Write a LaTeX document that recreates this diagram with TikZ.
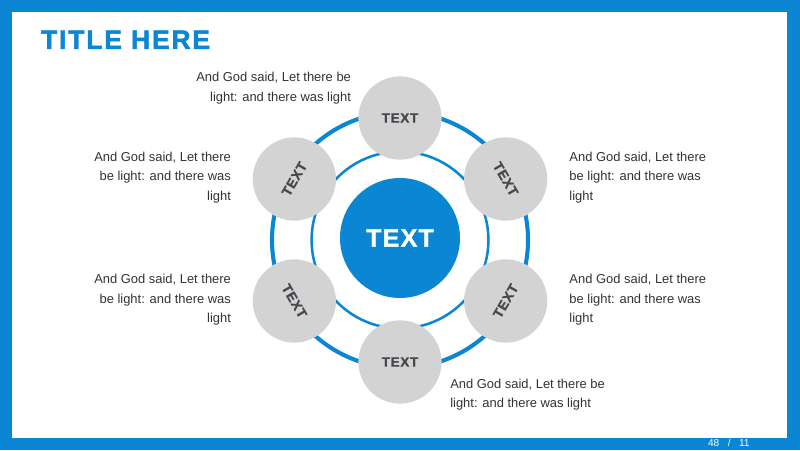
\documentclass[tikz,border=0pt]{standalone}
\usepackage{fontspec}
\setmainfont{Liberation Sans}
\newfontfamily\titlefont{Liberation Sans Bold}[FakeBold=1.8, LetterSpace=7]
\newfontfamily\boldsans{Liberation Sans Bold}[FakeBold=1.2, LetterSpace=5]
\begin{document}
\begin{tikzpicture}
    \definecolor{frameBlue}{HTML}{0A86D2}
    \definecolor{bubbleGrey}{HTML}{D3D3D3}
    \definecolor{labelGrey}{HTML}{45484D}
    \definecolor{bodyGrey}{HTML}{333333}

    \tikzset{
      bubble/.style={circle, fill=bubbleGrey, minimum size=2.08cm, inner sep=0pt,
        text=labelGrey, font=\boldsans\fontsize{9.6}{12}\selectfont},
      caption/.style={text=bodyGrey, font=\fontsize{9.2}{13.8}\selectfont, inner sep=0pt},
    }

    % Draw frame
    \fill[frameBlue] (0,0) rectangle (20,11.25);
    \fill[white] (0.3,0.31) rectangle (19.67,10.95);

    % Title and page number
    \node[anchor=base west, inner sep=0pt, text=frameBlue,
      font=\titlefont\fontsize{18.8}{21}\selectfont] (title) at (1.02,10.03) {TITLE HERE};
    \node[inner sep=0pt, text=white, font=\fontsize{7.2}{8}\selectfont] (pageNo) at (18.22,0.18) {48 \ \ / \ \ 11};

    % Draw rings
    \coordinate (hubCentre) at (10,5.25);
    \draw[frameBlue, line width=2.9pt] (hubCentre) circle (3.2);
    \draw[frameBlue, line width=1.8pt] (hubCentre) circle (2.21);

    % Centre circle
    \node[circle, fill=frameBlue, minimum size=3cm, inner sep=0pt, text=white,
      font=\boldsans\fontsize{17.8}{20}\selectfont] (hub) at (10,5.3) {TEXT};

    % Outer circles
    \foreach \ang/\rot [count=\i] in {90/0, 30/-60, 330/60, 270/0, 210/-60, 150/60}
        \node[bubble, rotate=\rot] (sat\i) at ([shift={(\ang:3.05)}]hubCentre) {TEXT};

    % Captions
    \node[caption, align=right, anchor=east] (noteTop) at (8.78,9.05)
      {And God said, Let there be\\light: and there was light};
    \node[caption, align=right, anchor=east] (noteUpLeft) at (5.78,6.81)
      {And God said, Let there\\be light: and there was\\light};
    \node[caption, align=left, anchor=west] (noteUpRight) at (14.23,6.81)
      {And God said, Let there\\be light: and there was\\light};
    \node[caption, align=right, anchor=east] (noteLowLeft) at (5.78,3.75)
      {And God said, Let there\\be light: and there was\\light};
    \node[caption, align=left, anchor=west] (noteLowRight) at (14.23,3.75)
      {And God said, Let there\\be light: and there was\\light};
    \node[caption, align=left, anchor=west] (noteBottom) at (11.25,1.39)
      {And God said, Let there be\\light: and there was light};

\end{tikzpicture}
\end{document}
